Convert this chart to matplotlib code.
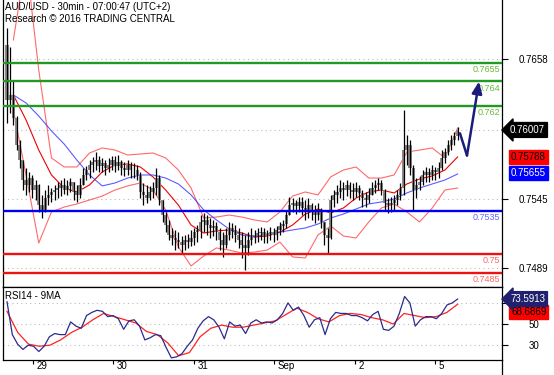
import numpy as np
import matplotlib
matplotlib.use("Agg")
import matplotlib.pyplot as plt
from matplotlib.lines import Line2D
from matplotlib.transforms import blended_transform_factory, ScaledTranslation

plt.rcParams['font.family'] = ['Liberation Sans', 'DejaVu Sans']

# velas (una cada hora aprox.), precios en pips: 7625.0 -> 0.76250
primer_open = 7669.6
maximos = [7683.4, 7668.0, 7641.2, 7612.0, 7592.6, 7576.3, 7569.9, 7566.6, 7564.2, 7560.1,
           7557.0, 7548.0, 7552.0, 7556.1, 7553.6, 7556.1, 7558.5, 7560.1, 7561.7, 7560.1,
           7561.7, 7558.5, 7556.1, 7561.7, 7569.9, 7571.5, 7576.3, 7578.8, 7582.8, 7579.6,
           7578.0, 7576.3, 7578.0, 7579.6, 7579.6, 7580.4, 7576.3, 7574.7, 7576.3, 7574.7,
           7573.9, 7572.3, 7566.6, 7557.7, 7556.1, 7555.3, 7558.5, 7569.9, 7564.2, 7543.9,
           7534.2, 7527.7, 7521.2, 7519.6, 7517.9, 7514.7, 7515.5, 7516.3, 7519.6, 7521.2,
           7523.6, 7531.7, 7533.4, 7531.7, 7529.3, 7527.7, 7526.1, 7521.2, 7517.9, 7521.2,
           7526.1, 7525.2, 7523.6, 7521.2, 7517.9, 7515.5, 7517.9, 7521.2, 7519.6, 7521.2,
           7522.0, 7521.2, 7519.6, 7522.0, 7521.2, 7522.8, 7526.1, 7527.7, 7535.8, 7546.3,
           7545.5, 7543.9, 7546.3, 7546.3, 7543.9, 7545.5, 7541.5, 7539.8, 7541.5, 7537.4,
           7526.1, 7521.2, 7548.0, 7552.0, 7556.1, 7560.1, 7558.5, 7560.1, 7558.5, 7557.7,
           7558.5, 7556.1, 7552.0, 7550.4, 7553.6, 7558.5, 7560.1, 7561.7, 7560.1, 7553.0,
           7545.5, 7546.3, 7548.0, 7552.0, 7557.7, 7616.9, 7596.6, 7592.6, 7572.0, 7561.7,
           7563.4, 7568.2, 7570.7, 7569.9, 7572.3, 7570.7, 7574.7, 7584.4, 7586.1, 7592.6,
           7596.6, 7599.0, 7603.1]
minimos = [7606.3, 7614.5, 7604.7, 7584.4, 7569.9, 7552.0, 7548.0, 7550.4, 7545.5, 7543.9,
           7534.2, 7529.3, 7534.0, 7539.8, 7542.3, 7543.9, 7545.5, 7547.1, 7548.8, 7548.0,
           7550.4, 7543.9, 7542.3, 7545.5, 7556.1, 7560.1, 7561.7, 7566.6, 7568.2, 7566.6,
           7566.6, 7564.2, 7566.6, 7568.2, 7566.6, 7568.2, 7564.2, 7563.4, 7564.2, 7561.7,
           7561.7, 7560.1, 7545.5, 7539.8, 7541.5, 7543.9, 7545.5, 7548.0, 7539.8, 7526.1,
           7517.9, 7511.5, 7507.4, 7503.3, 7505.0, 7500.9, 7503.3, 7505.0, 7506.6, 7507.4,
           7509.8, 7513.1, 7517.9, 7515.5, 7513.1, 7514.7, 7511.5, 7503.3, 7497.7, 7505.0,
           7511.5, 7513.1, 7509.8, 7505.0, 7496.9, 7487.1, 7499.3, 7507.4, 7509.0, 7509.8,
           7511.5, 7509.0, 7509.0, 7511.5, 7509.8, 7511.5, 7515.5, 7517.9, 7521.2, 7531.7,
           7534.2, 7532.5, 7534.2, 7531.7, 7527.7, 7529.3, 7527.7, 7525.2, 7527.7, 7521.2,
           7507.4, 7500.9, 7512.0, 7538.2, 7541.5, 7545.5, 7543.9, 7547.1, 7545.5, 7543.9,
           7546.3, 7543.9, 7538.2, 7538.2, 7541.5, 7548.0, 7549.6, 7552.0, 7548.0, 7535.8,
           7533.4, 7534.2, 7535.8, 7539.8, 7543.9, 7548.0, 7572.3, 7564.2, 7535.8, 7545.5,
           7552.0, 7556.1, 7558.5, 7558.5, 7560.1, 7560.1, 7561.7, 7568.2, 7573.9, 7580.4,
           7584.4, 7588.5, 7592.6]
cierres = [7625.0, 7629.1, 7610.4, 7588.5, 7576.3, 7560.1, 7556.1, 7561.7, 7552.0, 7556.1,
           7539.8, 7535.8, 7545.5, 7548.0, 7550.4, 7552.0, 7553.6, 7556.1, 7552.0, 7555.3,
           7558.5, 7550.4, 7548.0, 7556.1, 7564.2, 7568.2, 7572.3, 7574.7, 7576.3, 7571.5,
           7573.9, 7569.9, 7572.3, 7576.3, 7571.5, 7574.7, 7569.9, 7568.2, 7572.3, 7568.2,
           7568.2, 7564.2, 7550.4, 7548.0, 7545.5, 7550.4, 7553.6, 7561.7, 7543.9, 7531.7,
           7523.6, 7515.5, 7513.1, 7511.5, 7509.8, 7507.4, 7511.5, 7509.8, 7513.1, 7517.9,
           7519.6, 7526.1, 7527.7, 7523.6, 7521.2, 7522.8, 7517.9, 7511.5, 7507.4, 7515.5,
           7521.2, 7519.6, 7515.5, 7511.5, 7507.4, 7505.0, 7511.5, 7515.5, 7514.7, 7517.1,
           7517.9, 7514.7, 7516.3, 7517.9, 7515.5, 7519.6, 7522.8, 7524.4, 7531.7, 7539.8,
           7541.5, 7539.0, 7542.3, 7537.4, 7535.8, 7539.8, 7534.2, 7531.7, 7535.8, 7526.1,
           7515.5, 7513.1, 7543.9, 7548.0, 7550.4, 7553.6, 7552.0, 7556.1, 7552.0, 7550.4,
           7553.6, 7549.6, 7545.5, 7543.9, 7548.0, 7553.6, 7556.1, 7557.7, 7552.0, 7541.5,
           7539.8, 7541.5, 7543.9, 7548.0, 7553.6, 7584.4, 7588.5, 7569.9, 7552.0, 7556.1,
           7558.5, 7564.2, 7566.6, 7564.2, 7568.2, 7566.6, 7569.9, 7578.0, 7582.8, 7588.5,
           7592.6, 7595.8, 7600.7]

# bandas de Bollinger y media (una muestra cada 4 velas, desde la 3a)
banda_sup = [7673.7, 7738.5, 7649.3, 7578.0, 7570.7, 7570.7, 7582.0, 7586.1, 7584.4, 7580.4,
             7581.2, 7582.0, 7578.0, 7568.2, 7553.6, 7529.3, 7530.1, 7531.7, 7530.1, 7527.7,
             7526.1, 7534.2, 7547.1, 7550.4, 7548.0, 7562.6, 7568.2, 7570.7, 7561.7, 7561.7,
             7564.2, 7582.8, 7584.4, 7586.1, 7578.0, 7602.3]
banda_med = [7629.1, 7608.8, 7584.4, 7564.2, 7553.6, 7550.4, 7556.1, 7566.6, 7572.3, 7573.1,
             7570.7, 7562.6, 7552.0, 7539.8, 7523.6, 7517.1, 7518.8, 7519.6, 7517.1, 7513.9,
             7514.7, 7517.9, 7523.6, 7532.5, 7536.6, 7533.4, 7537.4, 7545.5, 7550.4, 7552.0,
             7549.6, 7556.9, 7560.9, 7563.4, 7568.2, 7578.8]
banda_inf = [7616.9, 7564.2, 7509.0, 7534.2, 7538.2, 7540.7, 7543.9, 7547.1, 7552.0, 7555.3,
             7557.7, 7552.0, 7535.8, 7505.8, 7490.4, 7498.5, 7505.0, 7503.3, 7500.9, 7501.7,
             7503.3, 7509.8, 7497.7, 7496.9, 7515.5, 7522.8, 7514.7, 7513.1, 7526.1, 7537.4,
             7540.7, 7534.2, 7526.1, 7537.4, 7552.0, 7553.6]
media_azul = [7629.1, 7622.6, 7612.0, 7599.9, 7589.3, 7576.3, 7564.2, 7555.3, 7557.7, 7561.7,
              7564.2, 7564.2, 7561.7, 7556.9, 7548.0, 7535.8, 7527.7, 7520.4, 7515.5, 7513.9,
              7516.3, 7517.9, 7519.6, 7521.2, 7524.4, 7529.3, 7532.5, 7536.6, 7540.7, 7542.3,
              7544.7, 7549.6, 7553.6, 7556.9, 7560.1, 7565.0]

# RSI 14 y su media de 9
rsi = [71, 40, 31, 26, 30, 29, 24, 29, 38, 41, 40, 40, 52, 48, 46, 58, 61, 63, 62, 57,
       58, 55, 45, 53, 54, 48, 35, 37, 40, 39, 28, 18, 19, 22, 29, 35, 46, 53, 57, 54,
       47, 36, 52, 48, 49, 41, 51, 54, 51, 52, 51, 54, 60, 70, 63, 66, 58, 47, 54, 56,
       40, 55, 61, 60, 60, 58, 58, 56, 53, 59, 62, 45, 44, 48, 60, 76, 70, 48, 54, 57,
       57, 55, 60, 68, 70, 73.59]
rsi_ma = [62, 42, 31, 29, 30, 35, 42, 47, 54, 60, 57, 54, 51, 43, 40, 32, 20, 23, 38, 46,
          49, 47, 47, 49, 51, 53, 59, 65, 61, 55, 52, 58, 60, 59, 56, 54, 50, 60, 58, 56,
          57, 61, 68.69]

# niveles
niveles = [0.7655, 0.764, 0.762, 0.7535, 0.75, 0.7485]
niveles_txt = ["0.7655", "0.764", "0.762", "0.7535", "0.75", "0.7485"]
niveles_col = ["#229922", "#229922", "#229922", "#0000ee", "#ee1111", "#ee1111"]
niveles_txtcol = ["#66bb33", "#66bb33", "#66bb33", "#6666ff", "#ff6666", "#ff6666"]

# flecha de pronóstico
flecha_barras = [270.4, 274.6, 281.8]
flecha_precios = [0.7598, 0.7580, 0.7640]

dias = ["29", "30", "31", "Sep", "2", "5"]
dias_barra = [15.5, 63.5, 111.5, 159.5, 207.5, 255.5]

precio_ticks = [0.7489, 0.7545, 0.7601, 0.7658]
precio_ticks_txt = ["0.7489", "0.7545", "", "0.7658"]

ultimo = 0.76007
media_ultimo = 0.75788
azul_ultimo = 0.75655

# ---- conversion de unidades
hi = np.array(maximos) / 10000
lo = np.array(minimos) / 10000
cl = np.array(cierres) / 10000
op = np.concatenate([[primer_open / 10000], cl[:-1]])
pos = np.linspace(0, 269, len(cl))
pos_b = pos[2::4]

W, H = 554, 375
fig = plt.figure(figsize=(W / 100, H / 100), dpi=100)
ax = fig.add_axes([3 / W, 1 - 287 / H, 499 / W, 287 / H])
ax2 = fig.add_axes([3 / W, 1 - 360 / H, 499 / W, 73 / H], sharex=ax)

gris = "#bbbbbb"
# grid punteado
for t in precio_ticks:
    ax.axhline(t, color=gris, lw=0.8, ls=(0, (1, 3)), zorder=0)

# bandas
ax.plot(pos_b, np.array(banda_sup) / 10000, color="#ff4444", lw=0.8, alpha=0.8, zorder=2)
ax.plot(pos_b, np.array(banda_inf) / 10000, color="#ff4444", lw=0.8, alpha=0.8, zorder=2)
ax.plot(pos_b, np.array(banda_med) / 10000, color="#ee0000", lw=0.8, zorder=2)
ax.plot(pos_b, np.array(media_azul) / 10000, color="#3333ff", lw=0.8, alpha=0.8, zorder=2)

# velas
cuerpo = cl - op
ax.bar(pos, np.where(np.abs(cuerpo) < 0.00003, 0.00003, cuerpo), bottom=op, width=1.9,
       color="#8a8a8a", zorder=3, linewidth=0)
ax.vlines(pos, lo, hi, color="black", lw=0.9, zorder=4)

# niveles
for n, t, c, tc in zip(niveles, niveles_txt, niveles_col, niveles_txtcol):
    ax.axhline(n, color=c, lw=1.7, zorder=5)
    ax.annotate(t, xy=(0.997, n), xycoords=("axes fraction", "data"), xytext=(0, -1.5),
                textcoords="offset points", ha="right", va="top", fontsize=6.5, color=tc,
                zorder=6)

# flecha
ax.plot(flecha_barras[:2], flecha_precios[:2], color="#1c1c7a", lw=1.8, zorder=6,
        solid_capstyle="round")
ax.annotate("", xy=(flecha_barras[2], flecha_precios[2]),
            xytext=(flecha_barras[1], flecha_precios[1]),
            arrowprops=dict(arrowstyle="-|>,head_length=0.7,head_width=0.3", color="#1c1c7a",
                            lw=1.8, shrinkA=0, shrinkB=0), zorder=6)

ax.set_xlim(-2.4, 295.5)
ax.set_ylim(0.747334, 0.770609)
ax.yaxis.tick_right()
ax.set_yticks(precio_ticks)
ax.set_yticklabels(precio_ticks_txt)
ax.tick_params(axis="y", direction="out", length=4, pad=8, labelsize=7, colors="black")
ax.tick_params(axis="x", bottom=False, labelbottom=False)
ax.spines["top"].set_visible(False)
for s in ["left", "right", "bottom"]:
    ax.spines[s].set_linewidth(0.9)

ax.text(2 / 499, 1 - 7 / 287, "AUD/USD - 30min - 07:00:47 (UTC+2)", transform=ax.transAxes,
        fontsize=7, va="center", ha="left")
ax.text(2 / 499, 1 - 19 / 287, "Research \u00a9 2016 TRADING CENTRAL", transform=ax.transAxes,
        fontsize=7, va="center", ha="left")

# etiquetas de precio a la derecha
tr = blended_transform_factory(fig.transFigure, ax.transData)
ax.text(510 / W, ultimo, "0.76007", transform=tr, fontsize=7, color="white", va="center",
        ha="left", bbox=dict(boxstyle="larrow,pad=0.25", fc="black", ec="black"), zorder=10)
ax.text(511 / W, media_ultimo, "0.75788", transform=tr, fontsize=7, color="black",
        va="center", ha="left", bbox=dict(boxstyle="square,pad=0.2", fc="#ff0000", ec="#ff0000"))
ax.text(511 / W, azul_ultimo, "0.75655", transform=tr, fontsize=7, color="white",
        va="center", ha="left", bbox=dict(boxstyle="square,pad=0.2", fc="#0000ff", ec="#0000ff"))

# ---- RSI
x_rsi = np.linspace(0, 269, len(rsi))
x_ma = np.linspace(0, 269, len(rsi_ma))
for t in [30, 50, 70]:
    ax2.axhline(t, color=gris, lw=0.8, ls=(0, (1, 3)), zorder=0)
ax2.plot(x_rsi, rsi, color="#2b2b8c", lw=0.9, zorder=3)
ax2.plot(x_ma, rsi_ma, color="#ff2222", lw=0.9, zorder=2)
ax2.set_ylim(16, 85)
ax2.yaxis.tick_right()
ax2.set_yticks([30, 50, 70])
ax2.set_yticklabels(["30", "50", ""])
ax2.tick_params(axis="y", direction="out", length=4, pad=15, labelsize=7)
ax2.set_xticks(dias_barra)
ax2.set_xticklabels(dias)
ax2.tick_params(axis="x", direction="out", length=3, pad=-2, labelsize=7)
off = ScaledTranslation(2.5 / 72, 0, fig.dpi_scale_trans)
for lbl in ax2.get_xticklabels():
    lbl.set_horizontalalignment("left")
    lbl.set_transform(lbl.get_transform() + off)
for s in ax2.spines.values():
    s.set_linewidth(0.9)
ax2.text(2 / 499, 0.87, "RSI14 - 9MA", transform=ax2.transAxes, fontsize=7, va="center",
         ha="left")

tr2 = blended_transform_factory(fig.transFigure, ax2.transData)
ax2.text(510 / W, 73.59, "73.5913", transform=tr2, fontsize=7, color="white", va="center",
         ha="left", bbox=dict(boxstyle="larrow,pad=0.25", fc="#20206e", ec="#20206e"), zorder=10)
ax2.text(511 / W, 61.5, "68.6869", transform=tr2, fontsize=7, color="black", va="center",
         ha="left", bbox=dict(boxstyle="square,pad=0.2", fc="#ff0000", ec="#ff0000"))

# linea vertical derecha hasta abajo
fig.add_artist(Line2D([502 / W, 502 / W], [0, 1 - 360 / H], color="black", lw=0.9))

fig.savefig("out.png", dpi=100)
